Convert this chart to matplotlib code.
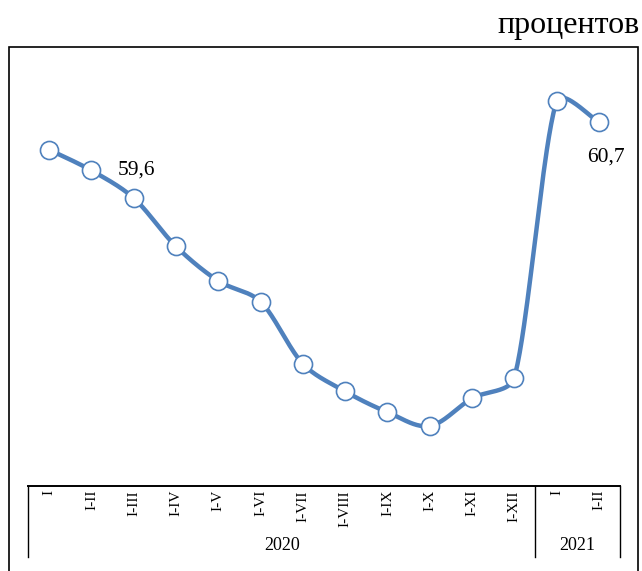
import matplotlib
import matplotlib.pyplot as plt
import numpy as np
from matplotlib.patches import Rectangle
from matplotlib.transforms import blended_transform_factory

matplotlib.rcParams["font.family"] = ["Liberation Serif", "DejaVu Serif"]

# data
periods = ["I", "I-II", "I-III", "I-IV", "I-V", "I-VI", "I-VII", "I-VIII",
           "I-IX", "I-X", "I-XI", "I-XII", "I", "I-II"]
years = ["2020", "2021"]
year_sizes = [12, 2]
values = [60.3, 60.0, 59.6, 58.9, 58.4, 58.1, 57.2, 56.8, 56.5, 56.3,
          56.7, 57.0, 61.0, 60.7]
labelled = [2, 13]
unit = "процентов"

BLUE = "#4F81BD"


def smooth(p, n=40):
    # Excel-like smoothed line: Bezier segments, control arms along the
    # neighbour direction, length min(chord/3, |p2-p0|/6) (pixel space)
    pp = np.vstack([p[0], p, p[-1]])
    t = np.linspace(0, 1, n)[:, None]
    out = []
    for i in range(len(p) - 1):
        p0, p1, p2, p3 = pp[i], pp[i + 1], pp[i + 2], pp[i + 3]
        chord = np.hypot(*(p2 - p1))
        l1 = np.hypot(*(p2 - p0))
        l2 = np.hypot(*(p3 - p1))
        c1 = p1 + (p2 - p0) / l1 * min(chord / 3, l1 / 6)
        c2 = p2 - (p3 - p1) / l2 * min(chord / 3, l2 / 6)
        seg = ((1 - t) ** 3 * p1 + 3 * (1 - t) ** 2 * t * c1
               + 3 * (1 - t) * t ** 2 * c2 + t ** 3 * p2)
        out.append(seg if i == 0 else seg[1:])
    return np.vstack(out)


fig = plt.figure(figsize=(6.42, 5.71), dpi=100)
W, H = 642, 571
ax = fig.add_axes([28 / W, 1 - 486 / H, (620 - 28) / W, (486 - 60) / H])

x = np.arange(len(values))
ax.set_xlim(-0.5, len(values) - 0.5)
ax.set_ylim(55.43, 61.60)

pix = ax.transData.transform(np.column_stack([x, values]))
curve = ax.transData.inverted().transform(smooth(pix))
ax.plot(curve[:, 0], curve[:, 1], color=BLUE, lw=3.2, solid_capstyle="round",
        zorder=2)
ax.plot(x, values, ls="none", marker="o", ms=13, mfc="white", mec=BLUE,
        mew=1.2, zorder=3)

offsets = {2: (2, 20), 13: (5, -25)}
for i in labelled:
    ax.annotate(f"{values[i]:.1f}".replace(".", ","), (x[i], values[i]),
                xytext=offsets[i], textcoords="offset points",
                ha="center", va="center", fontsize=15.5)

ax.set_xticks([])
ax.set_yticks([])
for s in ["top", "left", "right"]:
    ax.spines[s].set_visible(False)
ax.spines["bottom"].set_linewidth(1.4)

# two-level category axis
trans = blended_transform_factory(ax.transData, ax.transAxes)
ah = 486 - 60
for xi, lab in zip(x, periods):
    ax.text(xi, -4 / ah, lab, transform=trans, rotation=90, ha="center",
            va="top", fontsize=11, clip_on=False)

edges = np.concatenate([[0], np.cumsum(year_sizes)]) - 0.5
for e in edges:
    ax.plot([e, e], [0, -71 / ah], transform=trans, color="black", lw=1.0,
            clip_on=False)
for y, a, b in zip(years, edges[:-1], edges[1:]):
    ax.text((a + b) / 2, -59 / ah, y, transform=trans, ha="center",
            va="center", fontsize=13, clip_on=False)

# outer frame and unit caption
fig.patches.append(Rectangle((9 / W, -0.05), (638 - 9) / W, 1 - 47 / H + 0.05,
                             transform=fig.transFigure, fill=False,
                             ec="black", lw=1.2))
fig.text(640 / W, 1 - 25 / H, unit, ha="right", va="center", fontsize=23)

fig.savefig("out.png", dpi=100)
